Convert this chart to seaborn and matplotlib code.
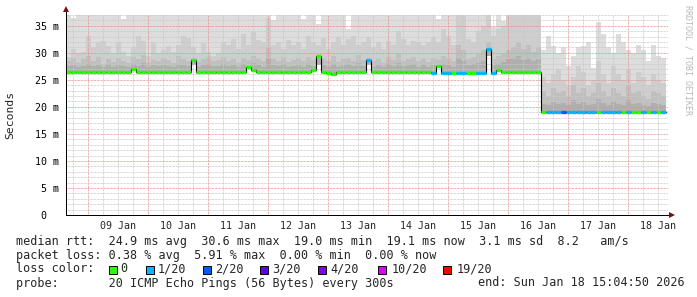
import numpy as np
import pandas as pd
import matplotlib
matplotlib.use("Agg")
import matplotlib.pyplot as plt
import matplotlib.dates as mdates
from matplotlib.ticker import MultipleLocator, FuncFormatter
from matplotlib.patches import Rectangle
import seaborn as sns

# ---------------- data (2-hour bins, 08 Jan 15:05 -> 18 Jan 15:05) ----------------
start_time = "2026-01-08 15:04:50"
end_time = "2026-01-18 15:04:50"

median_ms = [
    26.5, 26.5, 26.5, 26.5, 26.5, 26.5, 26.5, 26.5, 26.5, 26.5,
    26.5, 26.5, 26.5, 27.1, 26.5, 26.5, 26.5, 26.5, 26.5, 26.5,
    26.5, 26.5, 26.5, 26.5, 26.5, 28.6, 26.5, 26.5, 26.5, 26.5,
    26.5, 26.5, 26.5, 26.5, 26.5, 26.5, 27.3, 26.9, 26.5, 26.5,
    26.5, 26.5, 26.5, 26.5, 26.5, 26.5, 26.5, 26.5, 26.5, 26.9,
    29.5, 26.5, 26.2, 26.0, 26.5, 26.5, 26.5, 26.5, 26.5, 26.5,
    28.6, 26.4, 26.4, 26.4, 26.4, 26.4, 26.4, 26.4, 26.4, 26.4,
    26.4, 26.4, 26.4, 26.3, 27.6, 26.3, 26.3, 26.3, 26.3, 26.3,
    26.3, 26.3, 26.3, 26.3, 30.8, 26.3, 26.9, 26.4, 26.4, 26.4,
    26.4, 26.4, 26.4, 26.4, 26.4, 19.1, 19.1, 19.1, 19.1, 19.0,
    19.1, 19.1, 19.0, 19.1, 19.1, 19.1, 19.1, 19.1, 19.1, 19.1,
    19.1, 19.1, 19.1, 19.1, 19.1, 19.1, 19.1, 19.1, 19.1, 19.1,
]

loss = [
    0, 0, 0, 0, 0, 0, 0, 0, 0, 0,
    0, 0, 0, 0, 0, 0, 0, 0, 0, 0,
    0, 0, 0, 0, 0, 0, 0, 0, 0, 0,
    0, 0, 0, 0, 0, 0, 0, 0, 0, 0,
    0, 0, 0, 0, 0, 0, 0, 0, 0, 0,
    0, 0, 0, 0, 0, 0, 0, 0, 0, 0,
    1, 0, 0, 0, 0, 0, 0, 0, 0, 0,
    0, 0, 0, 1, 0, 1, 1, 0, 1, 1,
    0, 0, 1, 1, 1, 1, 0, 0, 0, 0,
    0, 0, 0, 0, 0, 0, 1, 1, 1, 2,
    1, 1, 1, 1, 1, 1, 0, 1, 1, 1,
    1, 0, 1, 0, 0, 1, 0, 1, 0, 1,
]

# smoke: upper edges of the grey bands (outer -> inner)
smoke_outer = [
    38, 36.4, 38, 38, 38, 38, 38, 38, 38, 38,
    38, 36.3, 38, 38, 38, 38, 38, 38, 38, 38,
    38, 38, 38, 38, 38, 38, 38, 38, 38, 38,
    38, 38, 38, 38, 38, 38, 38, 38, 38, 38,
    38, 36.0, 38, 38, 38, 38, 38, 36.2, 38, 38,
    35.3, 38, 38, 38, 38, 38, 34.5, 38, 38, 38,
    38, 38, 38, 38, 38, 38, 38, 38, 38, 38,
    38, 38, 38, 38, 36.3, 38, 38, 38, 38, 38,
    38, 38, 38, 38, 38, 34.7, 38, 35.8, 38, 38,
    38, 38, 38, 38, 38, 30.5, 33.2, 31.2, 30.0, 31.0,
    27.5, 29.5, 31.0, 31.2, 32.0, 27.2, 35.7, 33.5, 31.0, 30.0,
    33.5, 32.0, 30.5, 30.0, 31.5, 30.5, 28.5, 31.5, 29.5, 29.0,
]

smoke_mid = [
    29.3, 30.8, 30.0, 30.2, 33.2, 31.0, 32.0, 32.2, 31.2, 30.0,
    32.0, 30.2, 29.5, 31.0, 33.2, 32.2, 29.5, 32.0, 30.0, 30.5,
    31.2, 30.2, 31.5, 33.2, 32.8, 31.0, 30.0, 31.8, 30.2, 29.5,
    30.0, 32.0, 31.5, 32.5, 30.8, 33.5, 31.5, 33.8, 32.3, 32.0,
    36.5, 31.4, 32.0, 30.8, 32.3, 31.5, 32.0, 30.8, 33.2, 32.0,
    31.4, 32.8, 30.8, 32.0, 33.0, 31.5, 32.6, 33.2, 31.5, 32.0,
    32.9, 31.0, 32.0, 30.8, 32.2, 31.4, 34.1, 32.6, 31.4, 32.2,
    32.0, 31.4, 32.0, 32.9, 32.0, 34.4, 33.2, 31.4, 38, 38,
    32.6, 32.0, 34.1, 35.0, 38, 33.2, 34.4, 35.0, 38, 38,
    38, 38, 38, 38, 38, 25.5, 24.5, 26.0, 27.0, 25.0,
    24.0, 25.5, 27.5, 26.5, 24.0, 25.0, 28.5, 26.0, 24.5, 27.5,
    26.0, 25.0, 27.0, 24.5, 26.5, 25.5, 24.0, 26.0, 25.0, 24.5,
]

smoke_inner = [
    28.5, 29.0, 28.2, 28.8, 29.5, 28.4, 29.2, 28.0, 28.9, 28.3,
    29.0, 28.5, 28.2, 29.3, 28.8, 29.6, 28.1, 28.7, 28.4, 29.1,
    28.6, 28.2, 29.4, 28.9, 28.5, 29.0, 28.3, 28.8, 29.2, 28.4,
    28.7, 29.3, 28.5, 28.9, 28.2, 29.1, 28.6, 29.5, 28.8, 28.4,
    31.0, 28.9, 28.5, 29.2, 28.3, 28.7, 29.0, 28.4, 29.3, 28.6,
    29.0, 28.8, 28.5, 29.4, 28.3, 28.9, 29.1, 28.5, 29.6, 28.7,
    29.0, 28.4, 28.9, 28.2, 29.3, 28.6, 29.8, 28.5, 28.8, 29.2,
    28.5, 28.9, 28.3, 29.0, 28.6, 29.5, 29.1, 28.4, 31.5, 30.5,
    28.8, 29.2, 29.8, 30.5, 32.0, 28.9, 29.5, 29.8, 30.5, 31.0,
    32.0, 30.8, 31.5, 30.2, 31.0, 23.0, 22.0, 23.5, 22.5, 23.0,
    22.0, 24.0, 22.5, 23.5, 22.0, 22.5, 24.5, 23.0, 22.0, 23.5,
    22.5, 22.0, 24.0, 22.5, 23.0, 22.0, 21.5, 23.0, 22.5, 22.0,
]

smoke_core = [
    27.5, 27.8, 27.4, 27.6, 28.0, 27.5, 27.7, 27.3, 27.9, 27.4,
    27.8, 27.5, 27.3, 27.9, 27.6, 28.1, 27.3, 27.7, 27.5, 27.8,
    27.6, 27.3, 28.0, 27.7, 27.5, 27.8, 27.4, 27.7, 27.9, 27.5,
    27.6, 28.0, 27.5, 27.7, 27.3, 27.9, 27.6, 28.1, 27.7, 27.4,
    29.0, 27.7, 27.5, 27.9, 27.4, 27.6, 27.8, 27.4, 28.0, 27.5,
    27.8, 27.7, 27.4, 28.0, 27.3, 27.7, 27.9, 27.5, 28.1, 27.6,
    27.8, 27.4, 27.7, 27.3, 27.9, 27.5, 28.2, 27.5, 27.7, 27.9,
    27.4, 27.7, 27.3, 27.8, 27.5, 28.0, 27.8, 27.4, 29.0, 28.5,
    27.7, 27.9, 28.2, 28.5, 29.5, 27.7, 28.0, 28.3, 28.8, 29.0,
    29.5, 28.7, 29.0, 28.5, 28.8, 20.6, 20.4, 20.9, 20.5, 20.8,
    20.3, 21.2, 20.6, 20.9, 20.4, 20.6, 21.5, 20.7, 20.4, 21.0,
    20.6, 20.3, 21.2, 20.5, 20.8, 20.4, 20.2, 20.8, 20.5, 20.4,
]

ytick_values = [0, 5, 10, 15, 20, 25, 30, 35]
ytick_labels = ["0  ", "5 m", "10 m", "15 m", "20 m", "25 m", "30 m", "35 m"]

loss_codes = [0, 1, 2, 3, 4, 10, 19]
loss_labels = ["0", "1/20", "2/20", "3/20", "4/20", "10/20", "19/20"]
loss_colors = ["#26ff00", "#00b8ff", "#0059ff", "#5e00ff", "#7e00ff", "#dd00ff", "#ff0000"]

legend_line1 = "median rtt:  24.9 ms avg  30.6 ms max  19.0 ms min  19.1 ms now  3.1 ms sd  8.2   am/s"
legend_line2 = "packet loss: 0.38 % avg  5.91 % max  0.00 % min  0.00 % now"
legend_line3 = "loss color:"
legend_line4 = "probe:       20 ICMP Echo Pings (56 Bytes) every 300s"
legend_end = "end: Sun Jan 18 15:04:50 2026"
side_text = "RRDTOOL / TOBI OETIKER"

# ---------------- figure ----------------
sns.set_theme(style="white")
plt.rcParams["font.family"] = ["DejaVu Sans Mono", "DejaVu Sans"]

W, H = 697, 297
fig = plt.figure(figsize=(W / 100, H / 100), dpi=100)
fig.patch.set_facecolor("white")
ax_left, ax_right, ax_top, ax_bottom = 66, 668, 15, 215
ax = fig.add_axes([ax_left / W, 1 - ax_bottom / H, (ax_right - ax_left) / W, (ax_bottom - ax_top) / H])
ax.set_facecolor("white")

edges = pd.date_range(pd.Timestamp(start_time), pd.Timestamp(end_time), periods=len(median_ms) + 1)
med = np.array(median_ms, dtype=float)
def ext(a):
    a = np.asarray(a, dtype=float)
    return np.append(a, a[-1])

for arr, col in [(smoke_outer, "#dddddd"), (smoke_mid, "#cecece"),
                 (smoke_inner, "#bfbfbf"), (smoke_core, "#afafaf")]:
    ax.fill_between(edges, ext(med) - 0.2, ext(arr), step="post", color=col,
                    linewidth=0, zorder=1)

df = pd.DataFrame({"time": edges, "median": ext(med)})
sns.lineplot(data=df, x="time", y="median", drawstyle="steps-post", color="black",
             linewidth=0.8, ax=ax, zorder=4, estimator=None)

loss_arr = np.array(loss)
for code, col in zip(loss_codes, loss_colors):
    m = loss_arr == code
    if m.any():
        ax.hlines(med[m], edges[:-1][m], edges[1:][m], colors=col, linewidth=2.4,
                  zorder=5, capstyle="butt")

# axes limits
x0 = mdates.date2num(pd.Timestamp(start_time))
x1 = mdates.date2num(pd.Timestamp(end_time)) + 55 / 1440
ax.set_xlim(x0, x1)
ax.set_ylim(0, 37.0)

# y grid / ticks
ax.set_yticks(ytick_values)
ax.set_yticklabels(ytick_labels)
ax.yaxis.set_minor_locator(MultipleLocator(1))
# x grid / ticks
ax.xaxis.set_major_locator(mdates.DayLocator())
ax.xaxis.set_major_formatter(FuncFormatter(lambda v, p: ""))
ax.xaxis.set_minor_locator(mdates.HourLocator(byhour=[6, 12, 18]))
ax.xaxis.set_minor_formatter(FuncFormatter(
    lambda v, p: mdates.num2date(v).strftime("%d %b") if mdates.num2date(v).hour == 12 else ""))

dots = (0, (0.72, 0.72))
ax.grid(which="minor", color="#c9c9c9", linewidth=0.72, linestyle=dots)
ax.grid(which="major", color="#e89090", linewidth=0.72, linestyle=dots)
ax.set_axisbelow(False)
for gl in ax.get_xgridlines() + ax.get_ygridlines():
    gl.set_zorder(2)

ax.tick_params(axis="both", which="major", direction="inout", length=3, width=0.7,
               color="black", labelsize=7.2, labelcolor="black")
ax.tick_params(axis="both", which="minor", direction="in", length=0, labelsize=7.2)
ax.tick_params(axis="x", which="minor", pad=4.5)
ax.tick_params(axis="y", which="major", pad=3.5)
ax.set_xlabel("")
ax.set_ylabel("")

for s in ["top", "right"]:
    ax.spines[s].set_visible(False)
for s in ["left", "bottom"]:
    ax.spines[s].set_color("black")
    ax.spines[s].set_linewidth(0.72)
    ax.spines[s].set_zorder(6)

# axis extensions and arrows
ax.plot([0, 0], [1, 1.02], transform=ax.transAxes, color="black", lw=0.72, clip_on=False, zorder=6)
ax.plot([1, 1.004], [0, 0], transform=ax.transAxes, color="black", lw=0.72, clip_on=False, zorder=6)
ax.plot([0], [1.028], marker="^", markersize=4.5, color="#7a1010", transform=ax.transAxes,
        clip_on=False, zorder=7, markeredgewidth=0)
ax.plot([1.006], [0], marker=">", markersize=4.5, color="#7a1010", transform=ax.transAxes,
        clip_on=False, zorder=7, markeredgewidth=0)

# labels
def fx(x):
    return x / W
def fy(y):
    return 1 - y / H

fig.text(fx(10), fy(115), "Seconds", rotation=90, ha="center", va="center", fontsize=8.2)
fig.text(fx(688), fy(5), side_text, rotation=270, ha="center", va="top", fontsize=6.0,
         color="#b8b8b8")

lfs = 8.5
fig.text(fx(16), fy(241), legend_line1, ha="left", va="center", fontsize=lfs)
fig.text(fx(16), fy(255), legend_line2, ha="left", va="center", fontsize=lfs)
fig.text(fx(16), fy(269), legend_line3, ha="left", va="center", fontsize=lfs)
fig.text(fx(16), fy(283), legend_line4, ha="left", va="center", fontsize=lfs)
fig.text(fx(478), fy(283), legend_end, ha="left", va="center", fontsize=lfs)

box_x = [109, 146, 203, 260, 318, 378, 443]
label_x = [120, 158, 215, 272, 330, 392, 457]
for bx, lx, lab, col in zip(box_x, label_x, loss_labels, loss_colors):
    fig.patches.append(Rectangle((fx(bx), fy(273.5)), 8 / W, 8 / H, transform=fig.transFigure,
                                 facecolor=col, edgecolor="black", linewidth=0.7))
    fig.text(fx(lx), fy(269), lab, ha="left", va="center", fontsize=lfs)

fig.savefig("out.png", dpi=100, facecolor="white")
